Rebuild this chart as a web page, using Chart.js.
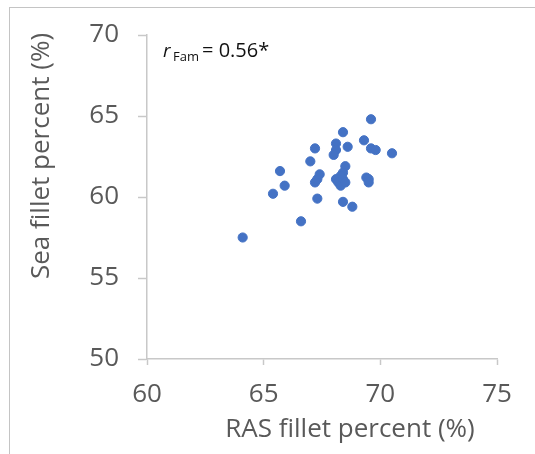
<!DOCTYPE html>
<html lang="en">
<head>
    <meta charset="UTF-8">
    <title>RAS vs Sea fillet percent</title>
    <style>
        body, html {
            margin: 0;
            padding: 0;
            background: #fff;
            overflow: hidden;
            width: 535px;
            height: 454px;
        }

        #frame {
            position: absolute;
            left: 9px;
            top: 7px;
            width: 526px;
            height: 447px;
            border-top: 1px solid #c4c4c4;
            border-left: 1px solid #c4c4c4;
        }

        #chartCanvas {
            position: absolute;
            left: 0;
            top: 0;
        }
    </style>
</head>
<body>
    <div id="frame"></div>
    <canvas id="chartCanvas" width="535" height="454"></canvas>

    <script src="https://cdn.jsdelivr.net/npm/chart.js"></script>
    <script>
        // RAS fillet percent (x) and sea fillet percent (y), one entry per family
        const rasFillet = [
            64.1, 66.6, 65.4, 65.7, 65.9, 67.3, 67.2, 67.0, 67.2, 67.3,
            67.4, 68.4, 68.8, 68.4, 69.6, 69.3, 69.6, 69.8, 70.5, 68.6,
            68.1, 68.1, 68.0, 68.5, 68.4, 68.3, 68.1, 68.2, 68.4, 68.3,
            68.5, 69.4, 69.5, 69.5
        ];
        const seaFillet = [
            57.5, 58.5, 60.2, 61.6, 60.7, 59.9, 63.0, 62.2, 60.9, 61.1,
            61.4, 59.7, 59.4, 64.0, 64.8, 63.5, 63.0, 62.9, 62.7, 63.1,
            63.3, 62.9, 62.6, 61.9, 61.5, 61.3, 61.1, 60.9, 61.1, 60.7,
            60.9, 61.2, 61.1, 60.9
        ];

        const xTicks = [60, 65, 70, 75];
        const yTicks = [50, 55, 60, 65, 70];
        const xTitle = 'RAS fillet percent (%)';
        const yTitle = 'Sea fillet percent (%)';

        const points = rasFillet.map((x, i) => ({ x: x, y: seaFillet[i] }));

        const axisGray = '#c8c8c8';
        const textGray = '#595959';
        const fontFamily = "'Open Sans', sans-serif";

        // axis titles (placed off-centre like the original) and the r_Fam note
        const chartText = {
            id: 'chartText',
            afterDraw(chart) {
                const c = chart.ctx;
                const a = chart.chartArea;
                c.save();

                c.fillStyle = textGray;
                c.font = "26px 'Open Sans', sans-serif";
                c.textAlign = 'center';
                c.textBaseline = 'middle';
                c.fillText(xTitle, a.left + 203, 430);

                c.translate(42, a.top + 121);
                c.rotate(-Math.PI / 2);
                c.fillText(yTitle, 0, 0);
                c.setTransform(1, 0, 0, 1, 0, 0);

                const x = a.left + 16;
                const y = a.top + 22;
                c.fillStyle = '#111';
                c.textAlign = 'left';
                c.textBaseline = 'alphabetic';
                c.font = "italic 19px 'Open Sans', sans-serif";
                c.fillText('r', x, y);
                c.font = "13px 'Open Sans', sans-serif";
                c.fillText('Fam', x + 10, y + 4);
                c.font = "20px 'Open Sans', sans-serif";
                c.fillText('= 0.56*', x + 39, y);
                c.restore();
            }
        };

        const ctx = document.getElementById('chartCanvas').getContext('2d');
        new Chart(ctx, {
            type: 'scatter',
            data: {
                datasets: [{
                    data: points,
                    backgroundColor: '#4472c4',
                    borderColor: '#4472c4',
                    pointRadius: 4.6,
                    pointHoverRadius: 4.6
                }]
            },
            options: {
                responsive: false,
                animation: false,
                layout: {
                    padding: { left: 10, top: 35, right: 38, bottom: 0 }
                },
                plugins: {
                    legend: { display: false },
                    tooltip: { enabled: false }
                },
                scales: {
                    x: {
                        type: 'linear',
                        min: 60,
                        max: 75,
                        afterFit: (scale) => { scale.height = 95; },
                        afterBuildTicks: (scale) => { scale.ticks = xTicks.map(v => ({ value: v })); },
                        border: { color: axisGray, width: 1.5 },
                        grid: {
                            drawOnChartArea: false,
                            drawTicks: true,
                            tickLength: 6,
                            tickColor: axisGray,
                            tickWidth: 1.5
                        },
                        ticks: {
                            color: textGray,
                            padding: 14,
                            font: { family: fontFamily, size: 26 }
                        },
                        title: { display: false }
                    },
                    y: {
                        type: 'linear',
                        min: 50,
                        max: 70,
                        afterFit: (scale) => { scale.width = 137; },
                        afterBuildTicks: (scale) => { scale.ticks = yTicks.map(v => ({ value: v })); },
                        border: { color: axisGray, width: 1.5 },
                        grid: {
                            drawOnChartArea: false,
                            drawTicks: true,
                            tickLength: 9,
                            tickColor: axisGray,
                            tickWidth: 1.5
                        },
                        ticks: {
                            color: textGray,
                            padding: 19,
                            font: { family: fontFamily, size: 26 }
                        },
                        title: { display: false }
                    }
                }
            },
            plugins: [chartText]
        });
    </script>
</body>
</html>
